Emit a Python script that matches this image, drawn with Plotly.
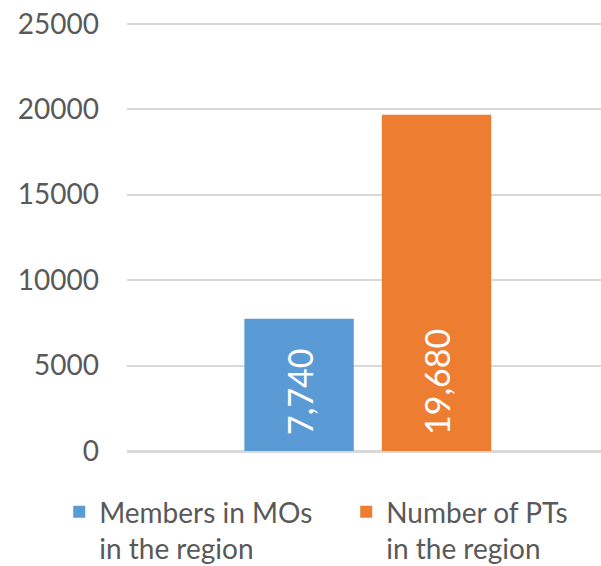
import plotly.graph_objects as go

categories = [""]
series_names = ["Members in MOs<br>in the region", "Number of PTs<br>in the region"]
series_values = [[7740], [19680]]
series_colors = ["#5B9BD5", "#ED7D31"]
tick_vals = [0, 5000, 10000, 15000, 20000, 25000]

FONT = "Lato, 'Open Sans', sans-serif"

fig = go.Figure()
for name, vals, col in zip(series_names, series_values, series_colors):
    fig.add_trace(go.Bar(
        x=categories, y=vals, name=name,
        marker=dict(color=col, line=dict(width=0)),
        text=["\u00a0\u2009" + f"{v:,}" for v in vals],
        textposition="inside", textangle=-90, insidetextanchor="start",
        textfont=dict(color="white", size=34, family=FONT),
        hoverinfo="skip",
    ))

fig.update_layout(
    width=601, height=566,
    margin=dict(l=127, r=0, t=22, b=115, autoexpand=False),
    paper_bgcolor="white", plot_bgcolor="white",
    barmode="group", bargap=0.42, bargroupgap=0.204,
    font=dict(family=FONT, color="#595959"),
    showlegend=True,
    legend=dict(
        orientation="h", x=-0.143, xanchor="left", y=-0.084, yanchor="top",
        font=dict(size=28, color="#595959", family=FONT),
        valign="top", itemwidth=30, tracegroupgap=0,
        entrywidth=242, entrywidthmode="pixels",
    ),
    uniformtext=dict(mode=False),
)
fig.update_xaxes(
    showticklabels=False, showgrid=False, zeroline=False,
    showline=False, range=[-0.508, 0.492],
)
fig.update_yaxes(
    range=[0, 25100], tickvals=tick_vals, ticktext=[str(v) for v in tick_vals],
    showgrid=True, gridcolor="#d9d9d9", gridwidth=2,
    zeroline=True, zerolinecolor="#d9d9d9", zerolinewidth=2.5,
    showline=False, ticks="",
    tickfont=dict(size=28, color="#595959", family=FONT),
    ticklabelstandoff=27, automargin=False,
)

fig.write_html(
    "out.html",
    config={"displayModeBar": False},
    post_script="document.body.style.margin='0';document.body.style.padding='0';",
)
